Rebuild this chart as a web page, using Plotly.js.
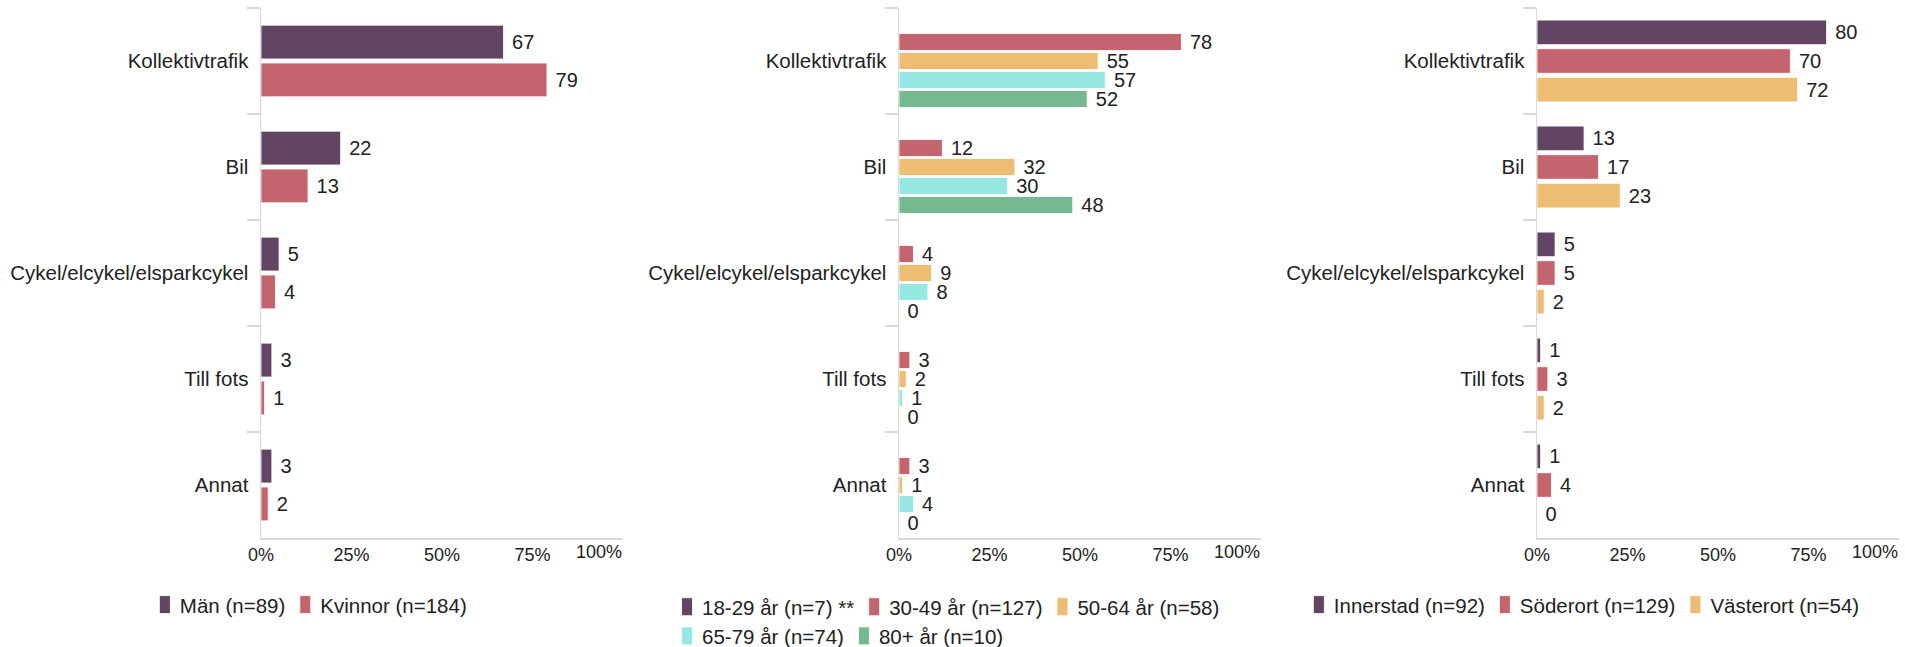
<!DOCTYPE html>
<html><head><meta charset="utf-8">
<script src="https://cdn.plot.ly/plotly-3.0.1.min.js"></script>
<style>
html,body{margin:0;padding:0;background:#fff;width:1905px;height:647px;overflow:hidden}
.p{position:absolute;top:0;height:647px}
</style></head>
<body>
<div id="c1" class="p" style="left:0px;width:635px"></div>
<div id="c2" class="p" style="left:638px;width:635px"></div>
<div id="c3" class="p" style="left:1276px;width:629px"></div>
<script>
// ---- data ----
const categories = ['Kollektivtrafik', 'Bil', 'Cykel/elcykel/elsparkcykel', 'Till fots', 'Annat'];
const xTickVals = [0, 25, 50, 75];
const xTickText = ['0%', '25%', '50%', '75%'];
const xEndLabel = '100%';

const genderNames = ['Män (n=89)', 'Kvinnor (n=184)'];
const men = [67, 22, 5, 3, 3];
const women = [79, 13, 4, 1, 2];

const ageNames = ['18-29 år (n=7) **', '30-49 år (n=127)', '50-64 år (n=58)', '65-79 år (n=74)', '80+ år (n=10)'];
const age18_29 = [null, null, null, null, null];
const age30_49 = [78, 12, 4, 3, 3];
const age50_64 = [55, 32, 9, 2, 1];
const age65_79 = [57, 30, 8, 1, 4];
const age80plus = [52, 48, 0, 0, 0];

const areaNames = ['Innerstad (n=92)', 'Söderort (n=129)', 'Västerort (n=54)'];
const innerstad = [80, 13, 5, 1, 1];
const soderort = [70, 17, 5, 3, 4];
const vasterort = [72, 23, 2, 2, 0];

// ---- styling ----
const PURPLE = '#614563', PINK = '#C3646E', ORANGE = '#EDBD72', CYAN = '#96E8E2', GREEN = '#74B98F';
const FONT = 'Liberation Sans, Arial, Helvetica, sans-serif';
const TXT = '#222222';
const AXC = '#d9d9d9';
const PLOT_W = 362;
const LEFT = 261;

function barTrace(name, vals, color, legend) {
  return {
    type: 'bar', orientation: 'h', name: name,
    y: categories, x: vals,
    text: vals.map(v => v == null ? '' : '\u00a0' + v),
    textposition: 'outside', cliponaxis: false, constraintext: 'none',
    textfont: {family: FONT, size: 20, color: TXT},
    marker: {color: color, line: {color: 'rgba(255,255,255,0.85)', width: 1}},
    legend: legend || 'legend',
    hoverinfo: 'skip'
  };
}

function baseLayout(width, bargap, bargroupgap) {
  return {
    width: width, height: 647,
    margin: {l: LEFT, r: width - LEFT - PLOT_W, t: 8, b: 109, pad: 0, autoexpand: false},
    paper_bgcolor: 'rgba(0,0,0,0)', plot_bgcolor: 'rgba(0,0,0,0)',
    font: {family: FONT, size: 20, color: TXT},
    barmode: 'group', bargap: bargap, bargroupgap: bargroupgap,
    hovermode: false,
    xaxis: {
      range: [0, 100], fixedrange: true,
      tickvals: xTickVals, ticktext: xTickText,
      ticks: '',
      tickfont: {family: FONT, size: 18, color: TXT},
      showline: true, linecolor: AXC, linewidth: 1.5,
      showgrid: false, zeroline: false
    },
    yaxis: {
      type: 'category', autorange: 'reversed', fixedrange: true,
      ticks: 'outside', tickson: 'boundaries', ticklen: 13, tickcolor: AXC, tickwidth: 1.5,
      ticklabelstandoff: 7,
      tickfont: {family: FONT, size: 20.5, color: TXT},
      showline: true, linecolor: AXC, linewidth: 1.5,
      showgrid: false, zeroline: false
    },
    annotations: [{
      x: 100, xref: 'x', y: 0, yref: 'paper', xanchor: 'right', yanchor: 'top',
      yshift: -3, text: xEndLabel, showarrow: false, borderpad: 0,
      font: {family: FONT, size: 18, color: TXT}
    }],
    showlegend: true
  };
}

function legendDef(x, y) {
  return {orientation: 'h', x: x, xanchor: 'left', y: y, yanchor: 'middle',
          font: {family: FONT, size: 20.5, color: TXT}, traceorder: 'normal',
          itemwidth: 30, indentation: -10, bgcolor: 'rgba(0,0,0,0)'};
}

const cfg = {staticPlot: true, displayModeBar: false};

function tallSwatches(gd) {
  gd.querySelectorAll('.legendpoints path').forEach(p => p.setAttribute('d', 'M10.5,9H-0.5V-9H10.5Z'));
}

// Panel 1
const L1 = baseLayout(635, 0.286, 0.105);
L1.legend = legendDef(-0.307, -0.126);
Plotly.newPlot('c1', [
  barTrace(genderNames[0], men, PURPLE),
  barTrace(genderNames[1], women, PINK)
], L1, cfg).then(tallSwatches);

// Panel 2
const L2 = baseLayout(635, 0.104, 0.1);
L2.legend = legendDef(-0.627, -0.130);
L2.legend2 = legendDef(-0.627, -0.185);
Plotly.newPlot('c2', [
  barTrace(ageNames[0], age18_29, PURPLE, 'legend'),
  barTrace(ageNames[1], age30_49, PINK, 'legend'),
  barTrace(ageNames[2], age50_64, ORANGE, 'legend'),
  barTrace(ageNames[3], age65_79, CYAN, 'legend2'),
  barTrace(ageNames[4], age80plus, GREEN, 'legend2')
], L2, cfg).then(tallSwatches);

// Panel 3
const L3 = baseLayout(629, 0.19, 0.14);
L3.legend = legendDef(-0.644, -0.126);
Plotly.newPlot('c3', [
  barTrace(areaNames[0], innerstad, PURPLE),
  barTrace(areaNames[1], soderort, PINK),
  barTrace(areaNames[2], vasterort, ORANGE)
], L3, cfg).then(tallSwatches);
</script>
</body></html>
